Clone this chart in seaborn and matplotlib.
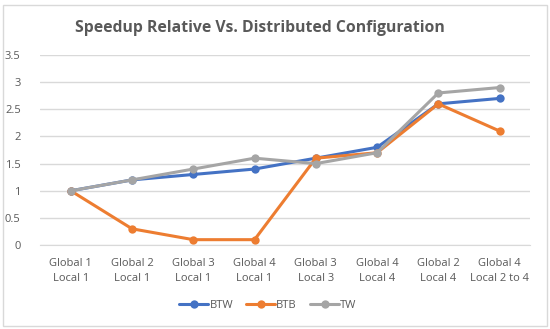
"""
Speedup relative vs. distributed configuration - line chart
"""

import pandas as pd
import matplotlib.pyplot as plt
import seaborn as sns
from matplotlib.patches import Rectangle

# Chart data
configs = ['Global 1\nLocal 1', 'Global 2\nLocal 1', 'Global 3\nLocal 1', 'Global 4\nLocal 1',
           'Global 3\nLocal 3', 'Global 4\nLocal 4', 'Global 2\nLocal 4', 'Global 4\nLocal 2 to 4']
btw = [1.0, 1.2, 1.3, 1.4, 1.6, 1.8, 2.6, 2.7]
btb = [1.0, 0.3, 0.1, 0.1, 1.6, 1.7, 2.6, 2.1]
tw = [1.0, 1.2, 1.4, 1.6, 1.5, 1.7, 2.8, 2.9]
series_names = ['BTW', 'BTB', 'TW']
y_ticks = [0, 0.5, 1, 1.5, 2, 2.5, 3, 3.5]

colors = {'BTW': '#4472C4', 'BTB': '#ED7D31', 'TW': '#A5A5A5'}

# Long-form table for seaborn
df = pd.concat([
    pd.DataFrame({'config': configs, 'speedup': vals, 'series': name})
    for name, vals in zip(series_names, [btw, btb, tw])
], ignore_index=True)
df['pos'] = df['config'].map({c: i for i, c in enumerate(configs)})

sns.set_style('white')
plt.rcParams['font.family'] = ['Open Sans', 'DejaVu Sans']

fig = plt.figure(figsize=(5.5, 3.29), dpi=100)
ax = fig.add_axes([0.073, 0.255, 0.891, 0.578])

sns.lineplot(data=df, x='pos', y='speedup', hue='series', hue_order=series_names,
             palette=colors, marker='o', markersize=6, markeredgewidth=0,
             linewidth=2.2, ax=ax, legend=True, sort=False)

ax.set_xlim(-0.5, len(configs) - 0.5)
ax.set_ylim(0, 3.5)
ax.set_yticks(y_ticks)
ax.set_yticklabels([f'{t:g}' for t in y_ticks])
ax.set_xticks(range(len(configs)))
ax.set_xticklabels(configs, linespacing=1.6)
ax.tick_params(axis='both', length=0, labelsize=8, labelcolor='#595959')
ax.tick_params(axis='x', pad=9)
ax.tick_params(axis='y', pad=14)
ax.grid(axis='y', color='#D9D9D9', linewidth=1)
ax.set_axisbelow(True)
for side in ['top', 'right', 'left']:
    ax.spines[side].set_visible(False)
ax.spines['bottom'].set_color('#D9D9D9')
ax.set_xlabel('')
ax.set_ylabel('')

# Legend below the plot
handles, labels = ax.get_legend_handles_labels()
ax.legend(handles, labels, loc='center', bbox_to_anchor=(0.5 - 0.035, -0.315), ncol=3,
          frameon=False, fontsize=8, labelcolor='#595959', handlelength=2.6,
          handletextpad=0.1, columnspacing=1.2)

fig.text(0.473, 0.915, 'Speedup Relative Vs. Distributed Configuration', ha='center', va='center',
         fontsize=11.3, fontweight='bold', color='#595959')

# Light chart border
fig.patches.append(Rectangle((0.005, 0.01), 0.99, 0.975, transform=fig.transFigure,
                             fill=False, edgecolor='#D9D9D9', linewidth=1))

fig.savefig('out.png', dpi=100)
